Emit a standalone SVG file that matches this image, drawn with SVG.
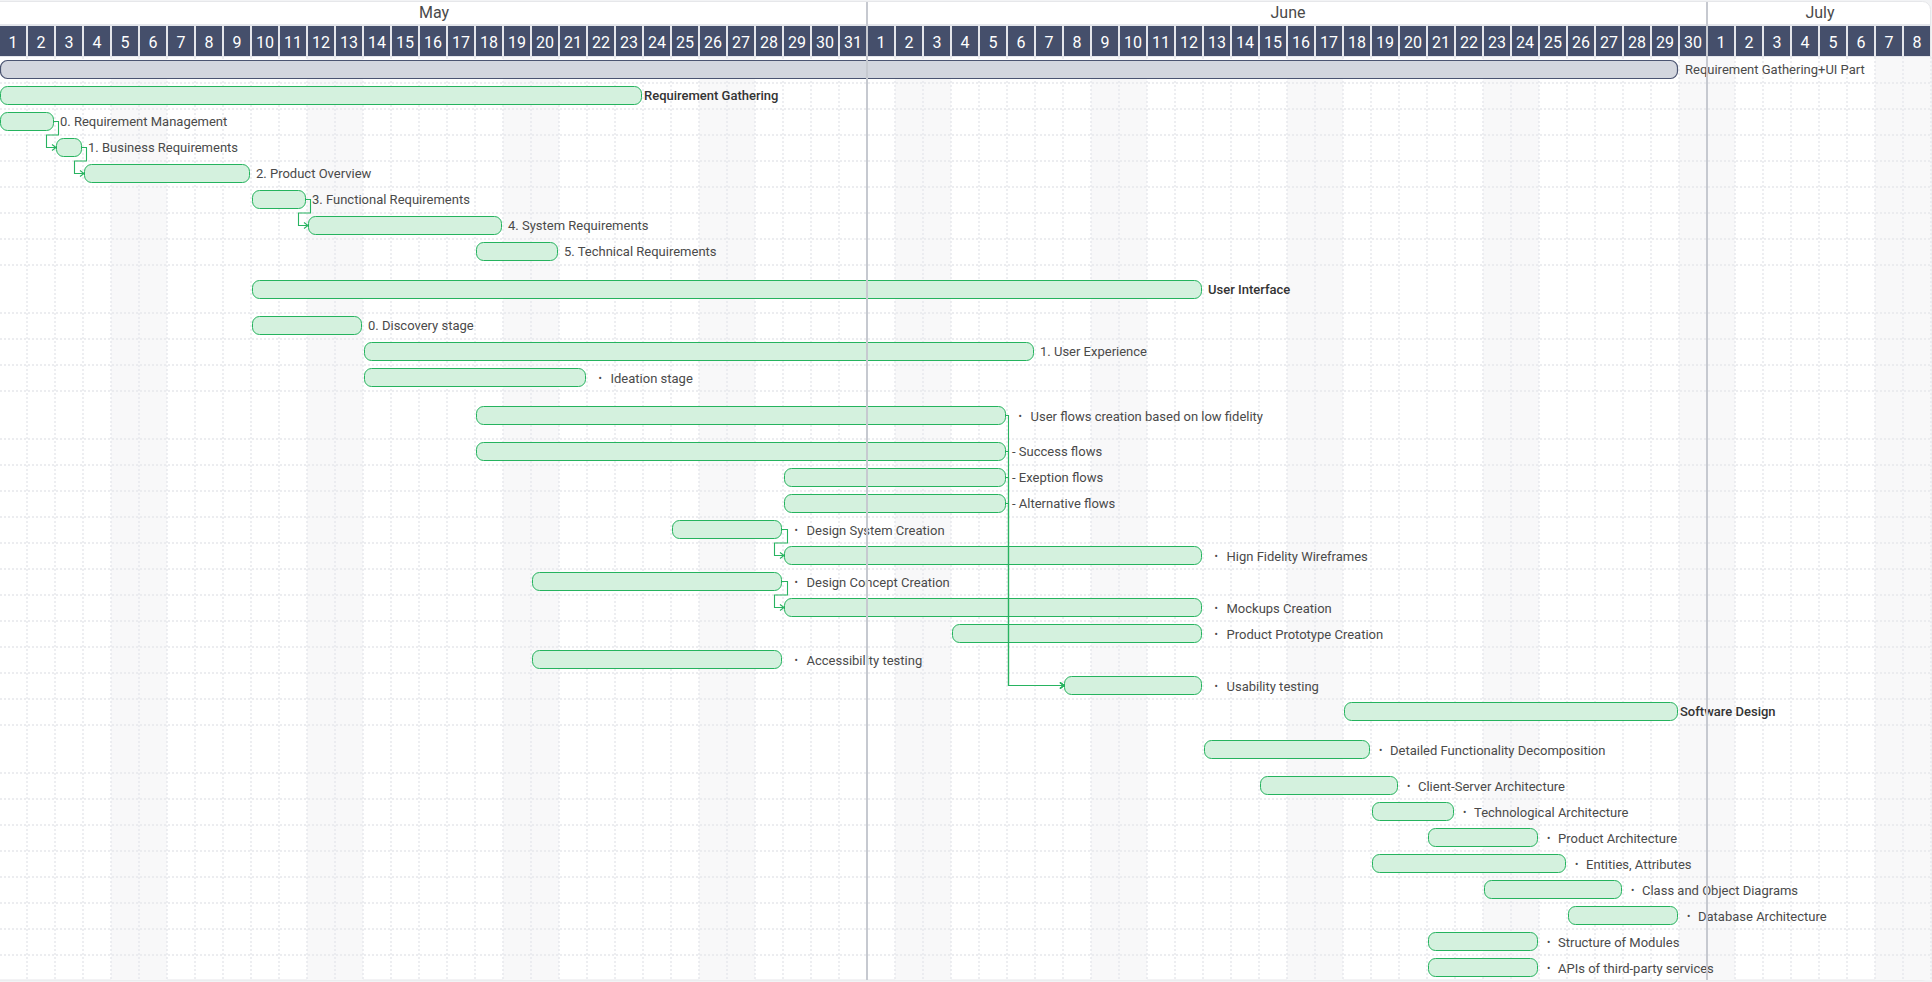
<svg xmlns="http://www.w3.org/2000/svg" width="1932" height="982" viewBox="0 0 1932 982">
<style>
.lbl{font-family:Roboto,"Liberation Sans",sans-serif;font-size:13px;fill:#4a4a4a;dominant-baseline:central}
.b{font-weight:500;fill:#333333}
.bul{font-size:10px}
.bar{fill:#d4f1de;stroke:#25b35e;stroke-width:1}
.sum{fill:#d3d6de;stroke:#4b5471;stroke-width:1.2}
.conn{fill:none;stroke:#27b360;stroke-width:1.1;marker-end:url(#arr)}
.day{font-family:Roboto,"Liberation Sans",sans-serif;font-size:16px;fill:#ffffff;text-anchor:middle;dominant-baseline:central}
.month{font-family:Roboto,"Liberation Sans",sans-serif;font-size:16px;fill:#4a4a4a;text-anchor:middle;dominant-baseline:central}
.hgrid{fill:none;stroke:#e6e7eb;stroke-width:1.5;stroke-dasharray:2 2}
.mline{stroke:#c6c9d0;stroke-width:2}
</style>
<defs>
<pattern id="cells" patternUnits="userSpaceOnUse" x="0" y="26" width="28" height="30"><rect x="0" y="0" width="26" height="30" fill="#454f6b"/></pattern>
<pattern id="vgrid" patternUnits="userSpaceOnUse" x="0" y="57" width="28" height="4"><rect x="26.25" y="0" width="1.5" height="2" fill="#e8e9ed"/></pattern>
<pattern id="wknd" patternUnits="userSpaceOnUse" x="0" y="57" width="196" height="10"><rect x="111" y="0" width="56" height="10" fill="#f8f8f9"/></pattern>
<marker id="arr" markerUnits="userSpaceOnUse" markerWidth="8" markerHeight="8" refX="5" refY="3.5" orient="auto"><path d="M1,0.5 L5,3.5 L1,6.5" fill="none" stroke="#27b360" stroke-width="1.1"/></marker>
</defs>

<rect x="0" y="0" width="1932" height="982" fill="#f2f3f5"/>
<rect x="-10" y="1.5" width="1940.5" height="978.5" rx="8" fill="#ffffff" stroke="#e6e7ea"/>

<g id="grid">
<rect x="0" y="57" width="1932" height="923" fill="url(#wknd)"/>
<rect x="0" y="57" width="1932" height="923" fill="url(#vgrid)"/>
<path class="hgrid" d="M0,83H1930M0,109H1930M0,135H1930M0,161H1930M0,187H1930M0,213H1930M0,239H1930M0,265H1930M0,313H1930M0,339H1930M0,365H1930M0,391H1930M0,439H1930M0,465H1930M0,491H1930M0,517H1930M0,543H1930M0,569H1930M0,595H1930M0,621H1930M0,647H1930M0,673H1930M0,699H1930M0,725H1930M0,773H1930M0,799H1930M0,825H1930M0,851H1930M0,877H1930M0,903H1930M0,929H1930M0,955H1930"/>
</g>

<g id="header">
<text class="month" x="434" y="12.5">May</text>
<text class="month" x="1288" y="12.5">June</text>
<text class="month" x="1820" y="12.5">July</text>
<rect x="0" y="24" width="1930" height="33" fill="#e4e6eb"/>
<rect x="0" y="26" width="1932" height="30" fill="url(#cells)"/>
<text class="day" y="41.5"><tspan x="13">1</tspan><tspan x="41">2</tspan><tspan x="69">3</tspan><tspan x="97">4</tspan><tspan x="125">5</tspan><tspan x="153">6</tspan><tspan x="181">7</tspan><tspan x="209">8</tspan><tspan x="237">9</tspan><tspan x="265">10</tspan><tspan x="293">11</tspan><tspan x="321">12</tspan><tspan x="349">13</tspan><tspan x="377">14</tspan><tspan x="405">15</tspan><tspan x="433">16</tspan><tspan x="461">17</tspan><tspan x="489">18</tspan><tspan x="517">19</tspan><tspan x="545">20</tspan><tspan x="573">21</tspan><tspan x="601">22</tspan><tspan x="629">23</tspan><tspan x="657">24</tspan><tspan x="685">25</tspan><tspan x="713">26</tspan><tspan x="741">27</tspan><tspan x="769">28</tspan><tspan x="797">29</tspan><tspan x="825">30</tspan><tspan x="853">31</tspan><tspan x="881">1</tspan><tspan x="909">2</tspan><tspan x="937">3</tspan><tspan x="965">4</tspan><tspan x="993">5</tspan><tspan x="1021">6</tspan><tspan x="1049">7</tspan><tspan x="1077">8</tspan><tspan x="1105">9</tspan><tspan x="1133">10</tspan><tspan x="1161">11</tspan><tspan x="1189">12</tspan><tspan x="1217">13</tspan><tspan x="1245">14</tspan><tspan x="1273">15</tspan><tspan x="1301">16</tspan><tspan x="1329">17</tspan><tspan x="1357">18</tspan><tspan x="1385">19</tspan><tspan x="1413">20</tspan><tspan x="1441">21</tspan><tspan x="1469">22</tspan><tspan x="1497">23</tspan><tspan x="1525">24</tspan><tspan x="1553">25</tspan><tspan x="1581">26</tspan><tspan x="1609">27</tspan><tspan x="1637">28</tspan><tspan x="1665">29</tspan><tspan x="1693">30</tspan><tspan x="1721">1</tspan><tspan x="1749">2</tspan><tspan x="1777">3</tspan><tspan x="1805">4</tspan><tspan x="1833">5</tspan><tspan x="1861">6</tspan><tspan x="1889">7</tspan><tspan x="1917">8</tspan></text>
</g>

<g id="tasks">
<g id="t-summary"><rect class="sum" x="0.5" y="60.5" width="1677" height="18" rx="7"/><text class="lbl" x="1685" y="69.5">Requirement Gathering+UI Part</text></g>
<g id="t-rg"><rect class="bar" x="0.5" y="86.5" width="641" height="18" rx="7"/><text class="lbl b" x="644" y="95.5">Requirement Gathering</text></g>
<g id="t-rm"><rect class="bar" x="0.5" y="112.5" width="53" height="18" rx="7"/><text class="lbl" x="60" y="121.5">0. Requirement Management</text></g>
<g id="t-br"><rect class="bar" x="56.5" y="138.5" width="25" height="18" rx="7"/><text class="lbl" x="88" y="147.5">1. Business Requirements</text></g>
<g id="t-po"><rect class="bar" x="84.5" y="164.5" width="165" height="18" rx="7"/><text class="lbl" x="256" y="173.5">2. Product Overview</text></g>
<g id="t-fr"><rect class="bar" x="252.5" y="190.5" width="53" height="18" rx="7"/><text class="lbl" x="312" y="199.5">3. Functional Requirements</text></g>
<g id="t-sr"><rect class="bar" x="308.5" y="216.5" width="193" height="18" rx="7"/><text class="lbl" x="508" y="225.5">4. System Requirements</text></g>
<g id="t-tr"><rect class="bar" x="476.5" y="242.5" width="81" height="18" rx="7"/><text class="lbl" x="564" y="251.5">5. Technical Requirements</text></g>
<g id="t-ui"><rect class="bar" x="252.5" y="280.5" width="949" height="18" rx="7"/><text class="lbl b" x="1208" y="289.5">User Interface</text></g>
<g id="t-disc"><rect class="bar" x="252.5" y="316.5" width="109" height="18" rx="7"/><text class="lbl" x="368" y="325.5">0. Discovery stage</text></g>
<g id="t-ux"><rect class="bar" x="364.5" y="342.5" width="669" height="18" rx="7"/><text class="lbl" x="1040" y="351.5">1. User Experience</text></g>
<g id="t-idea"><rect class="bar" x="364.5" y="368.5" width="221" height="18" rx="7"/><text class="lbl" y="377.5"><tspan class="bul" x="598.5">•</tspan><tspan x="610.5">Ideation stage</tspan></text></g>
<g id="t-uf"><rect class="bar" x="476.5" y="406.5" width="529" height="18" rx="7"/><text class="lbl" y="415.5"><tspan class="bul" x="1018.5">•</tspan><tspan x="1030.5">User flows creation based on low fidelity</tspan></text></g>
<g id="t-succ"><rect class="bar" x="476.5" y="442.5" width="529" height="18" rx="7"/><text class="lbl" x="1012" y="451.5">- Success flows</text></g>
<g id="t-exc"><rect class="bar" x="784.5" y="468.5" width="221" height="18" rx="7"/><text class="lbl" x="1012" y="477.5">- Exeption flows</text></g>
<g id="t-alt"><rect class="bar" x="784.5" y="494.5" width="221" height="18" rx="7"/><text class="lbl" x="1012" y="503.5">- Alternative flows</text></g>
<g id="t-dsc"><rect class="bar" x="672.5" y="520.5" width="109" height="18" rx="7"/><text class="lbl" y="529.5"><tspan class="bul" x="794.5">•</tspan><tspan x="806.5">Design System Creation</tspan></text></g>
<g id="t-hfw"><rect class="bar" x="784.5" y="546.5" width="417" height="18" rx="7"/><text class="lbl" y="555.5"><tspan class="bul" x="1214.5">•</tspan><tspan x="1226.5">Hign Fidelity Wireframes</tspan></text></g>
<g id="t-dcc"><rect class="bar" x="532.5" y="572.5" width="249" height="18" rx="7"/><text class="lbl" y="581.5"><tspan class="bul" x="794.5">•</tspan><tspan x="806.5">Design Concept Creation</tspan></text></g>
<g id="t-mock"><rect class="bar" x="784.5" y="598.5" width="417" height="18" rx="7"/><text class="lbl" y="607.5"><tspan class="bul" x="1214.5">•</tspan><tspan x="1226.5">Mockups Creation</tspan></text></g>
<g id="t-ppc"><rect class="bar" x="952.5" y="624.5" width="249" height="18" rx="7"/><text class="lbl" y="633.5"><tspan class="bul" x="1214.5">•</tspan><tspan x="1226.5">Product Prototype Creation</tspan></text></g>
<g id="t-acc"><rect class="bar" x="532.5" y="650.5" width="249" height="18" rx="7"/><text class="lbl" y="659.5"><tspan class="bul" x="794.5">•</tspan><tspan x="806.5">Accessibility testing</tspan></text></g>
<g id="t-usab"><rect class="bar" x="1064.5" y="676.5" width="137" height="18" rx="7"/><text class="lbl" y="685.5"><tspan class="bul" x="1214.5">•</tspan><tspan x="1226.5">Usability testing</tspan></text></g>
<g id="t-sd"><rect class="bar" x="1344.5" y="702.5" width="333" height="18" rx="7"/><text class="lbl b" x="1680" y="711.5">Software Design</text></g>
<g id="t-dfd"><rect class="bar" x="1204.5" y="740.5" width="165" height="18" rx="7"/><text class="lbl" y="749.5"><tspan class="bul" x="1379">•</tspan><tspan x="1390">Detailed Functionality Decomposition</tspan></text></g>
<g id="t-csa"><rect class="bar" x="1260.5" y="776.5" width="137" height="18" rx="7"/><text class="lbl" y="785.5"><tspan class="bul" x="1407">•</tspan><tspan x="1418">Client-Server Architecture</tspan></text></g>
<g id="t-tech"><rect class="bar" x="1372.5" y="802.5" width="81" height="18" rx="7"/><text class="lbl" y="811.5"><tspan class="bul" x="1463">•</tspan><tspan x="1474">Technological Architecture</tspan></text></g>
<g id="t-pa"><rect class="bar" x="1428.5" y="828.5" width="109" height="18" rx="7"/><text class="lbl" y="837.5"><tspan class="bul" x="1547">•</tspan><tspan x="1558">Product Architecture</tspan></text></g>
<g id="t-ea"><rect class="bar" x="1372.5" y="854.5" width="193" height="18" rx="7"/><text class="lbl" y="863.5"><tspan class="bul" x="1575">•</tspan><tspan x="1586">Entities, Attributes</tspan></text></g>
<g id="t-cod"><rect class="bar" x="1484.5" y="880.5" width="137" height="18" rx="7"/><text class="lbl" y="889.5"><tspan class="bul" x="1631">•</tspan><tspan x="1642">Class and Object Diagrams</tspan></text></g>
<g id="t-da"><rect class="bar" x="1568.5" y="906.5" width="109" height="18" rx="7"/><text class="lbl" y="915.5"><tspan class="bul" x="1687">•</tspan><tspan x="1698">Database Architecture</tspan></text></g>
<g id="t-sm"><rect class="bar" x="1428.5" y="932.5" width="109" height="18" rx="7"/><text class="lbl" y="941.5"><tspan class="bul" x="1547">•</tspan><tspan x="1558">Structure of Modules</tspan></text></g>
<g id="t-api"><rect class="bar" x="1428.5" y="958.5" width="109" height="18" rx="7"/><text class="lbl" y="967.5"><tspan class="bul" x="1547">•</tspan><tspan x="1558">APIs of third-party services</tspan></text></g>
</g>

<g id="connectors">
<path class="conn" d="M54,121.5H58.5V135H46.5V147.5H56"/>
<path class="conn" d="M82,147.5H86.5V161H74.5V173.5H84"/>
<path class="conn" d="M306,199.5H310.5V213H298.5V225.5H308"/>
<path class="conn" d="M782,529.5H787.5V543H774.5V555.5H784"/>
<path class="conn" d="M782,581.5H787.5V595H774.5V607.5H784"/>
<path class="conn" d="M1006,415.5H1008.5V685.5H1064"/>
<path class="conn" d="M1006,451.5H1008.5V685.5H1064"/>
<path class="conn" d="M1006,477.5H1008.5V685.5H1064"/>
<path class="conn" d="M1006,503.5H1008.5V685.5H1064"/>
</g>

<g id="month-lines">
<line class="mline" x1="867" y1="2" x2="867" y2="980"/>
<line class="mline" x1="1707" y1="2" x2="1707" y2="980"/>
</g>
</svg>
